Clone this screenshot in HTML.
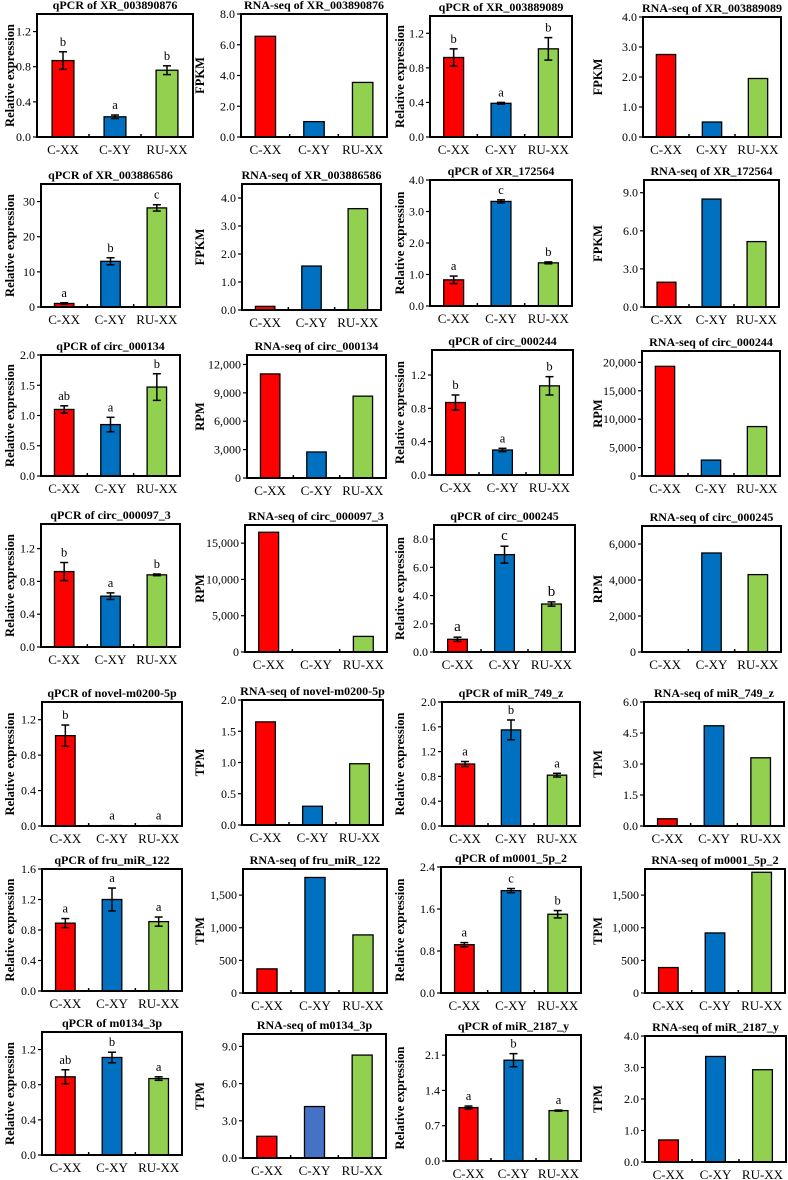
<!DOCTYPE html>
<html><head><meta charset="utf-8"><style>
html,body{margin:0;padding:0;background:#fff;}
svg{display:block;font-family:"Liberation Serif",serif;}
</style></head><body>
<svg id="fig" width="788" height="1180" viewBox="0 0 788 1180"></svg>
<script>
const categories=['C-XX','C-XY','RU-XX'];
const titles=['qPCR of XR_003890876','RNA-seq of XR_003890876','qPCR of XR_003889089','RNA-seq of XR_003889089',
'qPCR of XR_003886586','RNA-seq of XR_003886586','qPCR of XR_172564','RNA-seq of XR_172564',
'qPCR of circ_000134','RNA-seq of circ_000134','qPCR of circ_000244','RNA-seq of circ_000244',
'qPCR of circ_000097_3','RNA-seq of circ_000097_3','qPCR of circ_000245','RNA-seq of circ_000245',
'qPCR of novel-m0200-5p','RNA-seq of novel-m0200-5p','qPCR of miR_749_z','RNA-seq of miR_749_z',
'qPCR of fru_miR_122','RNA-seq of fru_miR_122','qPCR of m0001_5p_2','RNA-seq of m0001_5p_2',
'qPCR of m0134_3p','RNA-seq of m0134_3p','qPCR of  miR_2187_y','RNA-seq of miR_2187_y'];
const yTitles=['Relative expression','FPKM','Relative expression','FPKM',
'Relative expression','FPKM','Relative expression','FPKM',
'Relative expression','RPM','Relative expression','RPM',
'Relative expression','RPM','Relative expression','RPM',
'Relative expression','TPM','Relative expression','TPM',
'Relative expression','TPM','Relative expression','TPM',
'Relative expression','TPM','Relative expression','TPM'];
const yMax=[1.4,8,1.4,4, 35,4.5,4,10, 2,13000,1.5,22000, 1.5,17500,9,7000, 1.4,2,2,6, 1.6,1900,2.4,1900, 1.4,10,2.5,4];
const yStep=[0.4,2,0.4,1, 10,1,1,3, 0.5,3000,0.4,5000, 0.4,5000,2,2000, 0.4,0.5,0.4,1.5, 0.4,500,0.8,500, 0.4,3,0.7,1];
const tickFmt=['d1','d1','d1','d1', 'int','d1','d1','d1', 'd1','comma','d1','comma', 'd1','comma','d1','comma', 'd1','d1','d1','d1', 'd1','comma','d1','comma', 'd1','d1','d1','d1'];
const values=[[0.87,0.23,0.76],[6.55,1.0,3.55],[0.92,0.39,1.02],[2.75,0.5,1.95],
[1.0,13,28.2],[0.13,1.57,3.62],[0.83,3.32,1.37],[1.95,8.5,5.15],
[1.1,0.85,1.47],[11000,2750,8650],[0.87,0.3,1.07],[19300,2800,8700],
[0.92,0.62,0.88],[16500,0,2150],[0.9,6.9,3.4],[0,5500,4300],
[1.02,0.005,0.005],[1.65,0.3,0.98],[1.0,1.55,0.82],[0.35,4.85,3.3],
[0.89,1.2,0.91],[370,1770,890],[0.92,1.95,1.5],[390,920,1850],
[0.89,1.11,0.87],[1.75,4.15,8.3],[1.06,2.0,1.0],[0.7,3.35,2.93]];
const errors=[[0.1,0.02,0.05],null,[0.1,0.01,0.13],null,
[0.2,1,0.9],null,[0.12,0.05,0.03],null,
[0.06,0.12,0.22],null,[0.09,0.02,0.11],null,
[0.11,0.04,0.01],null,[0.15,0.6,0.15],null,
[0.12,0,0],null,[0.04,0.16,0.03],null,
[0.06,0.15,0.06],null,[0.04,0.04,0.07],null,
[0.08,0.06,0.02],null,[0.03,0.13,0.01],null];
const letters=[['b','a','b'],null,['b','a','b'],null,
['a','b','c'],null,['a','c','b'],null,
['ab','a','b'],null,['b','a','b'],null,
['b','a','b'],null,['a','c','b'],null,
['b','a','a'],null,['a','b','a'],null,
['a','a','a'],null,['a','c','b'],null,
['ab','b','a'],null,['a','b','a'],null];
// layout (pixel boxes: left,right,top,bottom)
const boxes=[[37,193,14,137],[241,387,14,137],[430,572,16,137],[643,781,17,137],
[41,180,184,307],[242,381,184,310],[430,572,180,306],[644,779,180,307],
[41,180,355,476],[247,386,355,478],[432,573,350,475],[642,780,351,476],
[41,180,524,647],[245,387,525,652],[434,575,525,652],[642,781,526,652],
[42,182,702,826],[242,383,700,825],[442,580,702,826],[644,784,702,826],
[42,182,869,991],[243,387,869,993],[441,581,867,993],[645,785,869,993],
[42,182,1032,1155],[243,386,1034,1158],[446,581,1035,1161],[645,786,1036,1162]];
const yTitleX=[10,200,400,598];
const colors=['#ff0000','#0070c0','#92d050'];
const NS='http://www.w3.org/2000/svg';
const svg=document.getElementById('fig');
function mk(tag,attrs,parent){const e=document.createElementNS(NS,tag);for(const k in attrs)e.setAttribute(k,attrs[k]);(parent||svg).appendChild(e);return e;}
function fmt(v,f){if(f==='int')return String(Math.round(v));if(f==='comma')return v===0?'0':Math.round(v).toLocaleString('en-US');return v.toFixed(1);}
for(let p=0;p<28;p++){
  const [x0,x1,yt,yb]=boxes[p];
  const col=p%4;
  const g=mk('g',{});
  
  
  const ys=v=>yb-(v/yMax[p])*(yb-yt);
  const catW=(x1-x0)/3;
  const xs=i=>x0+catW*(i+0.5);
  const t=mk('text',{x:(x0+x1)/2,y:yt-5,'text-anchor':'middle','font-size':'12','font-weight':'bold'},g);
  t.textContent=titles[p];
  
  
  const cy=(yt+yb)/2;
  const yl=mk('text',{x:yTitleX[col],y:cy,'text-anchor':'middle','font-size':'12.5','font-weight':'bold',transform:'rotate(-90 '+yTitleX[col]+' '+cy+')','dominant-baseline':'central'},g);
  yl.textContent=yTitles[p];
  
  
  for(let v=0;v<=yMax[p]+1e-9;v+=yStep[p]){
    const y=ys(v);
    mk('line',{x1:x0-4,x2:x0,y1:y,y2:y,stroke:'#000','stroke-width':1.2},g);
    const tl=mk('text',{x:x0-6,y:y+4,'text-anchor':'end','font-size':'12'},g);
    tl.textContent=fmt(v,tickFmt[p]);
    
    
  }
  for(let i=0;i<3;i++){
    const v=values[p][i];
    const bw=catW*0.42;
    const top=ys(v);
    const b=mk('rect',{x:xs(i)-bw/2,y:top,width:bw,height:Math.max(0,yb-top),fill:colors[i],stroke:'#000','stroke-width':1.3},g);
    if(p===25&&i===1)b.setAttribute('fill','#4472c4');
    
    
    let labTop=top;
    if(errors[p]){
      const e=errors[p][i];
      if(e>0){
        const eh=ys(v+e),el=ys(Math.max(0,v-e));
        mk('line',{x1:xs(i),x2:xs(i),y1:eh,y2:el,stroke:'#000','stroke-width':1.5},g);
        mk('line',{x1:xs(i)-4,x2:xs(i)+4,y1:eh,y2:eh,stroke:'#000','stroke-width':1.5},g);
        mk('line',{x1:xs(i)-4,x2:xs(i)+4,y1:el,y2:el,stroke:'#000','stroke-width':1.5},g);
        labTop=eh;
      }
      const lt=mk('text',{x:xs(i),y:labTop-6,'text-anchor':'middle','font-size':(p===14?'15':'12.5')},g);
      lt.textContent=letters[p][i];
      
      
    }
    const cl=mk('text',{x:xs(i),y:yb+17,'text-anchor':'middle','font-size':'13'},g);
    cl.textContent=categories[i];
    
    
  }
  for(let i=1;i<3;i++){mk('line',{x1:x0+catW*i,x2:x0+catW*i,y1:yb,y2:yb-3,stroke:'#000','stroke-width':1.5},g);}
  const fr=mk('rect',{x:x0,y:yt,width:x1-x0,height:yb-yt,fill:'none',stroke:'#000','stroke-width':2},g);
  
  
}
</script>
</body></html>
